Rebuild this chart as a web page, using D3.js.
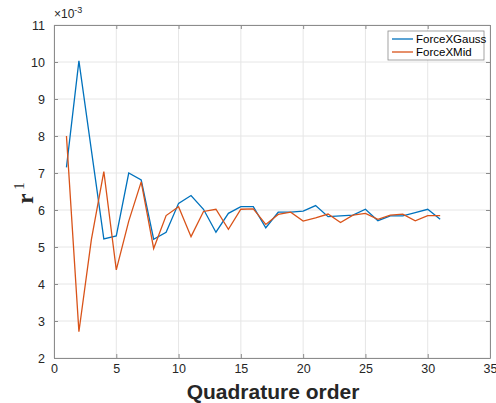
<!DOCTYPE html>
<html>
<head>
<meta charset="utf-8">
<script src="https://cdn.jsdelivr.net/npm/d3@7"></script>
<style>
  body { margin: 0; background: #fff; }
  text { font-family: "Liberation Sans", Arial, sans-serif; }
</style>
</head>
<body>
<div id="chart"></div>
<script>
// quadrature orders 1..31
let orders = d3.range(1, 32);

// values in units of 1e-3
let forceXGauss = [7.15, 10.03, 7.62, 5.22, 5.30, 7.00, 6.81, 5.21, 5.40, 6.18,
  6.39, 6.02, 5.40, 5.91, 6.09, 6.09, 5.52, 5.94, 5.94, 5.97,
  6.12, 5.82, 5.84, 5.86, 6.02, 5.71, 5.84, 5.84, 5.93, 6.02, 5.75];
let forceXMid = [8.00, 2.71, 5.20, 7.04, 4.38, 5.70, 6.76, 4.96, 5.85, 6.09,
  5.28, 5.96, 6.02, 5.48, 6.02, 6.03, 5.61, 5.88, 5.94, 5.70,
  5.79, 5.89, 5.66, 5.86, 5.91, 5.75, 5.86, 5.89, 5.71, 5.85, 5.85];

let seriesNames = ["ForceXGauss", "ForceXMid"];
let seriesColors = ["#0072BD", "#D95319"];
let xTicks = [0, 5, 10, 15, 20, 25, 30, 35];
let yTicks = [2, 3, 4, 5, 6, 7, 8, 9, 10, 11];

let width = 496, height = 403;
let margin = {left: 54, right: 6, top: 25, bottom: 45};
let plotW = width - margin.left - margin.right;
let plotH = height - margin.top - margin.bottom;

let svg = d3.select("#chart")
    .append("svg")
    .attr("width", width)
    .attr("height", height);

let g = svg.append("g")
    .attr("transform", `translate(${margin.left}, ${margin.top})`);

let x = d3.scaleLinear().domain([0, 35]).range([0, plotW]);
let y = d3.scaleLinear().domain([2, 11]).range([plotH, 0]);

// grid
g.append("g").selectAll("line").data(xTicks).enter().append("line")
    .attr("x1", d => x(d)).attr("x2", d => x(d))
    .attr("y1", 0).attr("y2", plotH)
    .attr("stroke", "#e6e6e6").attr("stroke-width", 1);
g.append("g").selectAll("line").data(yTicks).enter().append("line")
    .attr("x1", 0).attr("x2", plotW)
    .attr("y1", d => y(d)).attr("y2", d => y(d))
    .attr("stroke", "#e6e6e6").attr("stroke-width", 1);

// axes with inward ticks
let axisColor = "#8c8c8c";
function styleAxis(sel, showText) {
  sel.select(".domain").attr("stroke", axisColor);
  sel.selectAll(".tick line").attr("stroke", axisColor);
  sel.selectAll(".tick text")
      .attr("fill", "#262626")
      .style("font-size", "12.5px")
      .style("display", showText ? null : "none");
}

g.append("g").attr("transform", `translate(0, ${plotH})`)
    .call(d3.axisBottom(x).tickValues(xTicks).tickSizeInner(-4).tickSizeOuter(0).tickPadding(6))
    .call(s => styleAxis(s, true));
g.append("g")
    .call(d3.axisTop(x).tickValues(xTicks).tickSizeInner(-4).tickSizeOuter(0))
    .call(s => styleAxis(s, false));
g.append("g")
    .call(d3.axisLeft(y).tickValues(yTicks).tickSizeInner(-4).tickSizeOuter(0).tickPadding(9))
    .call(s => styleAxis(s, true));
g.append("g").attr("transform", `translate(${plotW}, 0)`)
    .call(d3.axisRight(y).tickValues(yTicks).tickSizeInner(-4).tickSizeOuter(0))
    .call(s => styleAxis(s, false));

// exponent label
let expo = g.append("text")
    .attr("x", 0).attr("y", -7)
    .attr("fill", "#262626")
    .style("font-size", "12px");
expo.append("tspan").text("\u00d710");
expo.append("tspan").attr("dy", -5).style("font-size", "9px").text("-3");

// lines
let allSeries = [forceXGauss, forceXMid];
let line = d3.line()
    .x((d, i) => x(orders[i]))
    .y(d => y(d));

allSeries.forEach((vals, k) => {
  g.append("path")
      .datum(vals)
      .attr("fill", "none")
      .attr("stroke", seriesColors[k])
      .attr("stroke-width", 1.3)
      .attr("d", line);
});

// legend
let legend = g.append("g").attr("transform", `translate(${388 - margin.left}, ${31 - margin.top})`);
legend.append("rect")
    .attr("width", 96).attr("height", 29)
    .attr("fill", "#fff").attr("stroke", axisColor).attr("stroke-width", 0.8);
seriesNames.forEach((name, k) => {
  legend.append("line")
      .attr("x1", 4).attr("x2", 25)
      .attr("y1", 8 + k * 13).attr("y2", 8 + k * 13)
      .attr("stroke", seriesColors[k]).attr("stroke-width", 1.3);
  legend.append("text")
      .attr("x", 28).attr("y", 12 + k * 13)
      .attr("fill", "#000")
      .style("font-size", "11.5px")
      .text(name);
});

// x label
svg.append("text")
    .attr("x", margin.left + plotW / 2 + 1)
    .attr("y", 399)
    .attr("text-anchor", "middle")
    .attr("fill", "#262626")
    .style("font-size", "21px")
    .style("font-weight", "bold")
    .text("Quadrature order");

// y label  r^1
let ylab = svg.append("text")
    .attr("transform", `translate(33, 193) rotate(-90)`)
    .attr("text-anchor", "middle")
    .attr("fill", "#262626")
    .style("font-family", "'Liberation Serif', 'DejaVu Serif', serif")
    .style("font-weight", "bold")
    .style("font-size", "23px");
ylab.append("tspan").text("r");
ylab.append("tspan").attr("dy", -9).attr("dx", 4).style("font-size", "15px").style("font-weight", "normal").text("1");
</script>
</body>
</html>
